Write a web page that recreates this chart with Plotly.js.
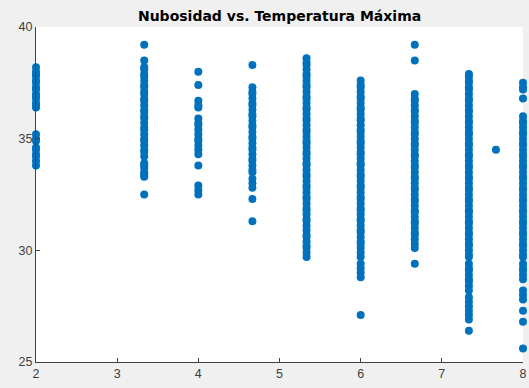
<!DOCTYPE html>
<html>
<head>
<meta charset="utf-8">
<script src="https://cdn.plot.ly/plotly-3.0.1.min.js"></script>
<style>
html,body{margin:0;padding:0;background:#f0f0f0;}
#chart{width:529px;height:388px;}
</style>
</head>
<body>
<div id="chart"></div>
<script>
// Nubosidad (x) categories and the Temperatura Máxima values read for each
const nubosidad = [2, 3.3333, 4, 4.6667, 5.3333, 6, 6.6667, 7.3333, 7.6667, 8];

const temp_2 = [38.2, 38.0, 37.9, 37.8, 37.6, 37.5, 37.3, 37.2, 37.0, 36.9, 36.8, 36.6, 36.5, 36.4,
  35.2, 35.0, 34.9, 34.6, 34.5, 34.3, 34.2, 34.0, 33.8];
const temp_3333 = [39.2, 38.5, 38.2, 38.1, 37.9, 37.8, 37.6, 37.4, 37.3, 37.1, 37.0, 36.8, 36.7, 36.5,
  36.3, 36.2, 36.0, 35.9, 35.7, 35.5, 35.4, 35.2, 35.0, 34.9, 34.7, 34.5, 34.4, 34.2,
  33.9, 33.8, 33.7, 33.5, 33.4, 33.3, 32.5];
const temp_4 = [38.0, 37.4, 36.7, 36.5, 36.4, 35.9, 35.7, 35.6, 35.4, 35.2, 35.0, 34.9, 34.7, 34.5,
  34.3, 33.8, 32.9, 32.7, 32.5];
const temp_4667 = [38.3, 37.3, 37.1, 37.0, 36.8, 36.6, 36.5, 36.3, 36.1, 36.0, 35.8, 35.6, 35.5, 35.3,
  35.1, 35.0, 34.8, 34.6, 34.5, 34.3, 34.1, 34.0, 33.8, 33.6, 33.5, 33.2, 33.0, 32.8, 32.3, 31.3];
const temp_5333 = [38.6, 38.4, 38.3, 38.1, 37.9, 37.8, 37.6, 37.4, 37.3, 37.1, 36.9, 36.8, 36.6, 36.4,
  36.3, 36.1, 35.9, 35.8, 35.6, 35.4, 35.3, 35.1, 34.9, 34.8, 34.6, 34.4, 34.3, 34.1, 33.9,
  33.8, 33.6, 33.4, 33.3, 33.1, 32.9, 32.8, 32.6, 32.4, 32.3, 32.1, 31.9, 31.8, 31.6, 31.4,
  31.3, 31.1, 30.9, 30.7, 30.6, 30.4, 30.2, 30.1, 29.9, 29.7];
const temp_6 = [37.6, 37.4, 37.3, 37.1, 36.9, 36.8, 36.6, 36.4, 36.3, 36.1, 35.9, 35.8, 35.6, 35.4,
  35.3, 35.1, 34.9, 34.8, 34.6, 34.4, 34.3, 34.1, 33.9, 33.8, 33.6, 33.4, 33.3, 33.1, 32.9,
  32.8, 32.6, 32.4, 32.3, 32.1, 31.9, 31.8, 31.6, 31.4, 31.3, 31.1, 30.9, 30.8, 30.6, 30.4,
  30.3, 30.1, 29.9, 29.7, 29.4, 29.2, 29.0, 28.8, 27.1];
const temp_6667 = [39.2, 38.5, 37.0, 36.8, 36.7, 36.5, 36.3, 36.2, 36.0, 35.8, 35.7, 35.5, 35.3, 35.2,
  35.0, 34.8, 34.7, 34.5, 34.3, 34.2, 34.0, 33.8, 33.7, 33.5, 33.3, 33.2, 33.0, 32.8, 32.7,
  32.5, 32.3, 32.2, 32.0, 31.8, 31.7, 31.5, 31.3, 31.2, 31.0, 30.8, 30.7, 30.5, 30.3, 30.1, 29.4];
const temp_7333 = [37.9, 37.8, 37.6, 37.5, 37.3, 37.2, 37.0, 36.8, 36.7, 36.5, 36.3, 36.2, 36.0, 35.8,
  35.7, 35.5, 35.3, 35.2, 35.0, 34.8, 34.7, 34.5, 34.3, 34.2, 34.0, 33.8, 33.7, 33.5, 33.3,
  33.2, 33.0, 32.8, 32.7, 32.5, 32.3, 32.2, 32.0, 31.8, 31.7, 31.5, 31.3, 31.2, 31.0, 30.8,
  30.7, 30.5, 30.3, 30.2, 30.0, 29.8, 29.7, 29.4, 29.2, 29.1, 28.9, 28.7, 28.6, 28.4, 28.2,
  27.9, 27.7, 27.5, 27.3, 27.1, 26.9, 26.4];
const temp_7667 = [34.5];
const temp_8 = [37.5, 37.3, 37.2, 36.8, 36.0, 35.8, 35.7, 35.5, 35.3, 35.2, 35.0, 34.8, 34.7, 34.5,
  34.3, 34.2, 34.0, 33.8, 33.7, 33.5, 33.3, 33.2, 33.0, 32.8, 32.7, 32.5, 32.3, 32.2, 32.0,
  31.8, 31.7, 31.5, 31.3, 31.2, 31.0, 30.8, 30.7, 30.5, 30.3, 30.2, 30.0, 29.8, 29.7, 29.4,
  29.2, 29.1, 28.9, 28.7, 28.2, 28.0, 27.8, 27.3, 26.8, 25.6];

const columns = [temp_2, temp_3333, temp_4, temp_4667, temp_5333, temp_6, temp_6667, temp_7333, temp_7667, temp_8];

const xTicks = [2, 3, 4, 5, 6, 7, 8];
const yTicks = [25, 30, 35, 40];
const chartTitle = 'Nubosidad vs. Temperatura Máxima';

const xs = [], ys = [];
columns.forEach((vals, i) => {
  vals.forEach(v => { xs.push(nubosidad[i]); ys.push(v); });
});

const trace = {
  type: 'scatter',
  mode: 'markers',
  x: xs,
  y: ys,
  cliponaxis: false,
  marker: { color: '#0072BD', size: 8, line: { width: 0 } },
  hoverinfo: 'x+y'
};

const axisCommon = {
  showgrid: false,
  zeroline: false,
  showline: true,
  linecolor: '#404040',
  linewidth: 1,
  mirror: false,
  ticks: 'inside',
  ticklen: 4,
  tickwidth: 1,
  tickcolor: '#404040',
  tickfont: { family: 'Liberation Sans, Arial, sans-serif', size: 12.5, color: '#404040' }
};

const layout = {
  width: 529,
  height: 388,
  paper_bgcolor: '#f0f0f0',
  plot_bgcolor: '#ffffff',
  margin: { l: 36, r: 6, t: 27, b: 26, pad: 0 },
  showlegend: false,
  title: {
    text: chartTitle,
    font: { family: 'DejaVu Sans, sans-serif', size: 14, color: '#000000', weight: 'bold' },
    x: 0.5285, xref: 'container', xanchor: 'center',
    y: 0.958, yref: 'container', yanchor: 'middle'
  },
  xaxis: Object.assign({}, axisCommon, {
    range: [2, 8], tickmode: 'array', tickvals: xTicks, ticktext: xTicks.map(String)
  }),
  yaxis: Object.assign({}, axisCommon, {
    range: [25, 40], tickmode: 'array', tickvals: yTicks, ticktext: yTicks.map(String)
  })
};

Plotly.newPlot('chart', [trace], layout, { displayModeBar: false, staticPlot: true });
</script>
</body>
</html>
